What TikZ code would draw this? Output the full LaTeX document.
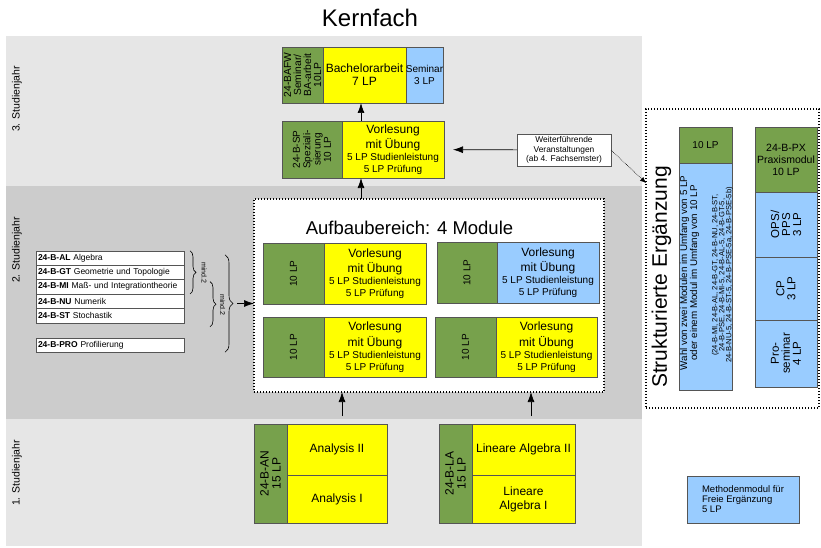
\documentclass[tikz,border=0pt]{standalone}
\usepackage{fontspec}
\setmainfont{Liberation Sans}
\usetikzlibrary{arrows.meta,decorations.pathreplacing,positioning}

\definecolor{modgreen}{RGB}{119,161,76}
\definecolor{modyellow}{RGB}{255,255,0}
\definecolor{modblue}{RGB}{153,204,255}
\definecolor{bandlight}{RGB}{230,230,230}
\definecolor{banddark}{RGB}{204,204,204}
\definecolor{boxline}{RGB}{85,85,85}
\newcommand{\setfs}[2]{\fontsize{#1}{#2}\selectfont}

\begin{document}
\begin{tikzpicture}[x=1pt,y=-1pt,every node/.style={outer sep=0pt,inner sep=1pt}]
      \tikzstyle{modbox}=[draw=boxline,line width=0.7pt,align=center,inner sep=0pt]
      \tikzstyle{greenbox}=[modbox,fill=modgreen]
      \tikzstyle{yellowbox}=[modbox,fill=modyellow]
      \tikzstyle{bluebox}=[modbox,fill=modblue]
      \tikzstyle{listbox}=[draw=boxline,line width=0.6pt,fill=white,text width=144pt,inner xsep=2pt,inner ysep=0pt,minimum height=14.4pt,align=left,font=\setfs{8.5}{10}]
      \tikzstyle{dotbox}=[draw,fill=white,line width=1.3pt,dash pattern=on 1.3pt off 1.7pt]
      \tikzstyle{arr}=[-{Latex[length=10pt,width=7pt]},line width=0.7pt]
      \tikzstyle{dotarr}=[-{Latex[length=6pt,width=5pt]},line width=0.6pt,densely dotted]
      \tikzstyle{curly}=[decorate,decoration={brace,amplitude=6pt},line width=0.6pt]
      \tikzstyle{yearlabel}=[rotate=90,font=\setfs{10.5}{12}]
      \tikzstyle{minlabel}=[rotate=-90,font=\setfs{7}{8}]
      \tikzstyle{lecture}=[font=\setfs{10}{12}]

      \useasboundingbox (0,0) rectangle (821,548);

      % Studienjahre
      \fill[bandlight] (6,36) rectangle (642,186);
      \fill[banddark] (6,186) rectangle (642,419);
      \fill[bandlight] (6,419) rectangle (642,546);
      \node[yearlabel] (jahr3) at (17,99) {3. Studienjahr};
      \node[yearlabel] (jahr2) at (17,250) {2. Studienjahr};
      \node[yearlabel] (jahr1) at (17,473) {1. Studienjahr};

      \node[font=\setfs{24}{28}] (title) at (370,18) {Kernfach};

      % 3. Jahr
      \node[greenbox,rotate=90,minimum width=56pt,minimum height=41pt,font=\setfs{10.3}{10}] (bafw) at (302.5,75) {24-BAFW\\Seminar/\\BA-arbeit\\10LP};
      \node[yellowbox,minimum width=83pt,minimum height=56pt,font=\setfs{12}{13}] (ba) at (364.5,75) {Bachelorarbeit\\7 LP};
      \node[bluebox,minimum width=37pt,minimum height=56pt,font=\setfs{10}{12}] (sem) at (424.5,75) {Seminar\\3 LP};

      \node[greenbox,rotate=90,minimum width=57pt,minimum height=60pt,font=\setfs{10}{10.3}] (spcode) at (312,149.5) {24-B-SP\\Speziali-\\sierung\\10 LP};
      \node[yellowbox,lecture,minimum width=102pt,minimum height=57pt] (sp) at (393,149.5) {{\setfs{12}{14}Vorlesung}\\[2pt]{\setfs{12}{14}mit Übung}\\5 LP Studienleistung\\5 LP Prüfung};

      \node[draw=boxline,fill=white,line width=0.6pt,minimum width=94pt,minimum height=32pt,align=center,font=\setfs{8.4}{9.5}] (weiter) at (564,150) {Weiterführende\\Veranstaltungen\\(ab 4. Fachsemster)};

      % Aufbaubereich
      \node[dotbox,minimum width=350pt,minimum height=193pt] (aufbau) at (429,295.5) {};
      \node[font=\setfs{18.5}{20}] (aufbautitle) at (409.5,227.5) {Aufbaubereich: 4 Module};

      \node[greenbox,rotate=90,minimum width=61pt,minimum height=61pt,font=\setfs{10}{12}] (m1code) at (293.5,273.5) {10 LP};
      \node[yellowbox,lecture,minimum width=102pt,minimum height=61pt] (m1) at (375,273.5) {{\setfs{12}{14}Vorlesung}\\[2pt]{\setfs{12}{14}mit Übung}\\5 LP Studienleistung\\5 LP Prüfung};
      \node[greenbox,rotate=90,minimum width=61pt,minimum height=60pt,font=\setfs{10}{12}] (m2code) at (467,272.5) {10 LP};
      \node[bluebox,lecture,minimum width=102pt,minimum height=61pt] (m2) at (548,272.5) {{\setfs{12}{14}Vorlesung}\\[2pt]{\setfs{12}{14}mit Übung}\\5 LP Studienleistung\\5 LP Prüfung};
      \node[greenbox,rotate=90,minimum width=60pt,minimum height=61pt,font=\setfs{10}{12}] (m3code) at (293.5,347) {10 LP};
      \node[yellowbox,lecture,minimum width=102pt,minimum height=60pt] (m3) at (375,347) {{\setfs{12}{14}Vorlesung}\\[2pt]{\setfs{12}{14}mit Übung}\\5 LP Studienleistung\\5 LP Prüfung};
      \node[greenbox,rotate=90,minimum width=60pt,minimum height=61pt,font=\setfs{10}{12}] (m4code) at (465.5,347) {10 LP};
      \node[yellowbox,lecture,minimum width=101pt,minimum height=60pt] (m4) at (546.5,347) {{\setfs{12}{14}Vorlesung}\\[2pt]{\setfs{12}{14}mit Übung}\\5 LP Studienleistung\\5 LP Prüfung};

      % Wahlmodule links
      \node[listbox] (al) at (110,258) {\textbf{24-B-AL} Algebra};
      \node[listbox,below=0pt of al] (gt) {\textbf{24-B-GT} Geometrie und Topologie};
      \node[listbox,below=0pt of gt] (mi) {\textbf{24-B-MI} Maß- und Integrationtheorie};
      \node[listbox,below=0pt of mi] (nu) {\textbf{24-B-NU} Numerik};
      \node[listbox,below=0pt of nu] (st) {\textbf{24-B-ST} Stochastik};
      \node[listbox] (pro) at (110,345) {\textbf{24-B-PRO} Profilierung};

      \draw[curly] ([xshift=6pt]al.north east) -- ([xshift=6pt]mi.south east);
      \node[minlabel] (mind1) at (204,273) {mind.2};
      \draw[curly] ([xshift=26pt,yshift=-2pt]mi.north east) -- ([xshift=26pt,yshift=-4pt]st.south east);
      \node[minlabel] (mind2) at (222.5,305) {mind.2};
      \draw[curly,decoration={amplitude=8pt}] ([xshift=41pt,yshift=-4pt]al.north east) -- ([xshift=41pt]pro.south east);
      \coordinate (bigtip) at (237,303.5);

      % 1. Jahr
      \node[greenbox,rotate=90,minimum width=99pt,minimum height=33pt,font=\setfs{12}{12}] (ancode) at (270.5,473.5) {24-B-AN\\15 LP};
      \node[yellowbox,minimum width=100pt,minimum height=51pt,font=\setfs{12}{14}] (an2) at (337,449.5) {Analysis II};
      \node[yellowbox,minimum width=100pt,minimum height=48pt,font=\setfs{12}{14}] (an1) at (337,499) {Analysis I};
      \node[greenbox,rotate=90,minimum width=99pt,minimum height=33pt,font=\setfs{12}{12}] (lacode) at (455.5,473.5) {24-B-LA\\15 LP};
      \node[yellowbox,minimum width=103pt,minimum height=51pt,font=\setfs{12}{14}] (la2) at (523.5,449.5) {Lineare Algebra II};
      \node[yellowbox,minimum width=103pt,minimum height=48pt,font=\setfs{12}{14}] (la1) at (523.5,499) {Lineare\\Algebra I};

      % Strukturierte Ergaenzung
      \node[dotbox,minimum width=173pt,minimum height=299pt] (strukt) at (732.5,258.5) {};
      \node[rotate=90,font=\setfs{21}{23}] (strukttitle) at (661.5,277) {Strukturierte Ergänzung};
      \coordinate (struktin) at (646,183);

      \node[greenbox,minimum width=53pt,minimum height=36pt,font=\setfs{10}{12}] (wcode) at (705.5,145) {10 LP};
      \node[bluebox,minimum width=53pt,minimum height=227pt] (wahl) at (705.5,276.5) {};
      \node[rotate=90,align=center,font=\setfs{9.8}{10}] (wahltxt) at (689.5,273) {Wahl von zwei Modulen im Umfang von 5 LP\\oder einem Modul im Umfang von 10 LP};
      \node[rotate=90,align=center,font=\setfs{7.6}{7}] (wahllist) at (722.5,275) {(24-B-MI, 24-B-AL, 24-B-GT, 24-B-NU, 24-B-ST,\\24-B-PSE, 24-B-MI-5, 24-B-AL-5, 24-B-GT-5,\\24-B-NU-5, 24-B-ST-5, 24-B-PSE-5a, 24-B-PSE-5b)};

      \node[greenbox,minimum width=62pt,minimum height=65pt,font=\setfs{10.5}{12}] (px) at (786,159.5) {24-B-PX\\Praxismodul\\10 LP};
      \node[bluebox,rotate=90,minimum width=65pt,minimum height=62pt,font=\setfs{11.5}{11}] (ops) at (786,224.5) {OPS/\\PPS\\3 LP};
      \node[bluebox,rotate=90,minimum width=63pt,minimum height=62pt,font=\setfs{11.5}{11}] (cp) at (786,288.5) {CP\\3 LP};
      \node[bluebox,rotate=90,minimum width=67pt,minimum height=62pt,font=\setfs{11.5}{11}] (prosem) at (786,353.5) {Pro-\\seminar\\4 LP};

      \node[bluebox,minimum width=112pt,minimum height=47pt,align=left,font=\setfs{9.5}{10}] (methoden) at (743,499.5) {Methodenmodul für\\Freie Ergänzung\\5 LP};

      % Pfeile
      \coordinate (upx) at (361,0);
      \draw[arr] (aufbau.north -| upx) -- (sp.south -| upx);
      \draw[arr] (sp.north -| upx) -- (ba.south -| upx);
      \draw[arr,shorten >=9pt] (weiter) -- (sp);
      \draw[dotarr] (weiter.east) -- (struktin);
      \draw[arr] (bigtip) -- (aufbau.west |- bigtip);
      \draw[arr] ([xshift=5pt,yshift=8pt]an2.north) -- ([xshift=5pt]an2.north |- aufbau.south);
      \draw[arr] ([xshift=7.5pt,yshift=8pt]la2.north) -- ([xshift=7.5pt]la2.north |- aufbau.south);
\end{tikzpicture}
\end{document}
